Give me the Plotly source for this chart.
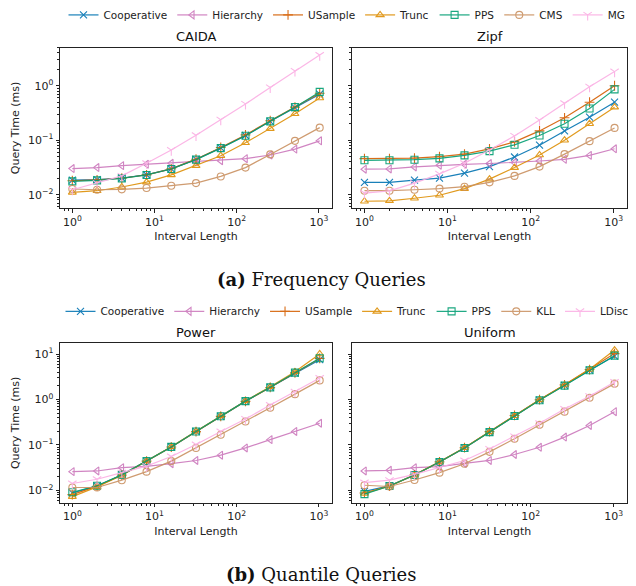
import plotly.graph_objects as go

# ---------------- data ----------------
interval_length = [1, 2, 4, 8, 16, 32, 64, 128, 256, 512, 1024]

freq_methods = ["Cooperative", "Hierarchy", "USample", "Trunc", "PPS", "CMS", "MG"]
quant_methods = ["Cooperative", "Hierarchy", "USample", "Trunc", "PPS", "KLL", "LDisc"]

# Frequency queries, CAIDA (ms)
caida_cooperative = [0.0185, 0.0188, 0.0202, 0.0232, 0.0298, 0.0445, 0.0720, 0.122, 0.222, 0.398, 0.70]
caida_hierarchy = [0.0301, 0.0314, 0.0341, 0.0361, 0.0377, 0.0404, 0.0421, 0.0458, 0.0534, 0.0686, 0.0973]
caida_usample = [0.0180, 0.0186, 0.0200, 0.0231, 0.0298, 0.0448, 0.0735, 0.125, 0.228, 0.405, 0.73]
caida_trunc = [0.0110, 0.0118, 0.0138, 0.0170, 0.0231, 0.0341, 0.0519, 0.0895, 0.163, 0.305, 0.597]
caida_pps = [0.0175, 0.0183, 0.0199, 0.0230, 0.0296, 0.0440, 0.0715, 0.121, 0.222, 0.404, 0.77]
caida_cms = [0.0127, 0.0123, 0.0125, 0.0132, 0.0146, 0.0163, 0.0216, 0.0314, 0.0548, 0.0973, 0.170]
caida_mg = [0.0123, 0.0163, 0.0221, 0.0377, 0.0658, 0.123, 0.238, 0.464, 0.93, 1.87, 3.66]

# Frequency queries, Zipf (ms)
zipf_cooperative = [0.0168, 0.0168, 0.0185, 0.0201, 0.0248, 0.0327, 0.0491, 0.081, 0.148, 0.265, 0.498]
zipf_hierarchy = [0.0293, 0.0297, 0.0323, 0.0346, 0.0361, 0.0373, 0.0388, 0.0415, 0.0445, 0.0526, 0.0695]
zipf_usample = [0.0458, 0.0458, 0.0470, 0.0498, 0.0555, 0.0695, 0.0933, 0.148, 0.258, 0.498, 1.0]
zipf_trunc = [0.00756, 0.0077, 0.00858, 0.00973, 0.0129, 0.0193, 0.0314, 0.0534, 0.100, 0.201, 0.404]
zipf_pps = [0.0427, 0.0427, 0.0438, 0.0464, 0.0526, 0.063, 0.0822, 0.122, 0.201, 0.382, 0.857]
zipf_cms = [0.0118, 0.0118, 0.0123, 0.0129, 0.0140, 0.0168, 0.0221, 0.0327, 0.0555, 0.096, 0.168]
zipf_mg = [0.0107, 0.0117, 0.0163, 0.0241, 0.0377, 0.0658, 0.120, 0.234, 0.477, 0.96, 1.82]

# Quantile queries, Power (ms)
power_cooperative = [0.0088, 0.0126, 0.0219, 0.0442, 0.0906, 0.198, 0.427, 0.92, 1.85, 3.80, 7.5]
power_hierarchy = [0.0259, 0.0268, 0.0316, 0.0338, 0.0387, 0.0456, 0.0596, 0.086, 0.131, 0.198, 0.30]
power_usample = [0.0081, 0.0124, 0.0217, 0.0440, 0.0900, 0.196, 0.425, 0.91, 1.84, 3.85, 8.0]
power_trunc = [0.0073, 0.0120, 0.0215, 0.0445, 0.0915, 0.200, 0.435, 0.93, 1.90, 4.05, 10.0]
power_pps = [0.0091, 0.0127, 0.0220, 0.0442, 0.0906, 0.198, 0.427, 0.92, 1.85, 3.90, 8.05]
power_kll = [0.0116, 0.0116, 0.0168, 0.0259, 0.0442, 0.086, 0.168, 0.327, 0.659, 1.31, 2.63]
power_ldisc = [0.0142, 0.0176, 0.0246, 0.0343, 0.0557, 0.102, 0.198, 0.373, 0.753, 1.47, 2.96]

# Quantile queries, Uniform (ms)
uniform_cooperative = [0.0095, 0.0126, 0.0219, 0.0420, 0.0860, 0.192, 0.435, 0.97, 2.05, 4.40, 9.0]
uniform_hierarchy = [0.0268, 0.0277, 0.0316, 0.0333, 0.0393, 0.0456, 0.0617, 0.0889, 0.149, 0.268, 0.54]
uniform_usample = [0.0088, 0.0125, 0.0220, 0.0425, 0.0870, 0.196, 0.445, 0.99, 2.10, 4.55, 10.2]
uniform_trunc = [0.0086, 0.0124, 0.0218, 0.0422, 0.0865, 0.194, 0.440, 0.98, 2.08, 4.60, 12.2]
uniform_pps = [0.0083, 0.0125, 0.0219, 0.0420, 0.0860, 0.192, 0.432, 0.96, 2.02, 4.40, 9.2]
uniform_kll = [0.0130, 0.0122, 0.0170, 0.0246, 0.0387, 0.0705, 0.137, 0.277, 0.54, 1.09, 2.23]
uniform_ldisc = [0.0149, 0.0168, 0.0226, 0.0316, 0.0456, 0.0818, 0.154, 0.30, 0.616, 1.18, 2.42]

panel_titles = ["CAIDA", "Zipf", "Power", "Uniform"]
captions = ["<b>(a)</b> Frequency Queries", "<b>(b)</b> Quantile Queries"]

x_tickvals = [1, 10, 100, 1000]
x_ticktext = ["10<sup>0</sup>", "10<sup>1</sup>", "10<sup>2</sup>", "10<sup>3</sup>"]
y_tickvals_top = [0.01, 0.1, 1]
y_ticktext_top = ["10<sup>\u22122</sup>", "10<sup>\u22121</sup>", "10<sup>0</sup>"]
y_tickvals_bot = [0.01, 0.1, 1, 10]
y_ticktext_bot = ["10<sup>\u22122</sup>", "10<sup>\u22121</sup>", "10<sup>0</sup>", "10<sup>1</sup>"]

# ---------------- styles ----------------
colors = ["#0173b2", "#cc78bc", "#d55e00", "#de8f05", "#029e73", "#ca9161", "#fbafe4"]
symbols = ["x-thin-open", "triangle-left-open", "cross-thin-open", "triangle-up-open",
           "square-open", "circle-open", "y-down-open"]
sizes = [7, 7, 7, 7, 7, 7, 7]

panels = [
    ("x", "y", freq_methods, [caida_cooperative, caida_hierarchy, caida_usample, caida_trunc,
                              caida_pps, caida_cms, caida_mg], "legend"),
    ("x2", "y2", freq_methods, [zipf_cooperative, zipf_hierarchy, zipf_usample, zipf_trunc,
                                zipf_pps, zipf_cms, zipf_mg], None),
    ("x3", "y3", quant_methods, [power_cooperative, power_hierarchy, power_usample, power_trunc,
                                 power_pps, power_kll, power_ldisc], "legend2"),
    ("x4", "y4", quant_methods, [uniform_cooperative, uniform_hierarchy, uniform_usample,
                                 uniform_trunc, uniform_pps, uniform_kll, uniform_ldisc], None),
]

fig = go.Figure()
for xa, ya, names, series, leg in panels:
    for i, (name, vals) in enumerate(zip(names, series)):
        fig.add_trace(go.Scatter(
            x=interval_length, y=vals, name=name, mode="lines+markers",
            xaxis=xa, yaxis=ya,
            line=dict(color=colors[i], width=1.2),
            marker=dict(symbol=symbols[i], size=sizes[i], color=colors[i],
                        line=dict(color=colors[i], width=1.1)),
            opacity=0.9,
            showlegend=leg is not None,
            legend=leg if leg else "legend",
        ))

W, H = 636, 586
xdom_l = [60 / W, 332 / W]
xdom_r = [352 / W, 627 / W]
ydom_top = [1 - 205 / H, 1 - 43 / H]
ydom_bot = [1 - 502 / H, 1 - 341 / H]

minor_vals = [m * 10 ** e for e in range(-3, 2) for m in range(2, 10)]

def axis_common():
    return dict(
        type="log", showgrid=False, zeroline=False,
        showline=True, linecolor="#222", linewidth=1, mirror=True,
        ticks="outside", ticklen=3.5, tickwidth=0.8, tickcolor="#222",
        tickfont=dict(family="DejaVu Sans", size=11, color="#222"),
        minor=dict(ticks="outside", ticklen=2, tickwidth=0.6, tickcolor="#222",
                   tickvals=minor_vals, showgrid=False),
    )

def xaxis(dom, anchor):
    d = axis_common()
    d.update(domain=dom, anchor=anchor, range=[-0.15, 3.16],
             tickvals=x_tickvals, ticktext=x_ticktext,
             title=dict(text="Interval Length", standoff=4,
                        font=dict(family="DejaVu Sans", size=11, color="#222")))
    return d

def yaxis(dom, anchor, rng, tv, tt, labels):
    d = axis_common()
    d.update(domain=dom, anchor=anchor, range=rng, tickvals=tv, ticktext=tt,
             showticklabels=labels)
    if labels:
        d["title"] = dict(text="Query Time (ms)", standoff=6,
                          font=dict(family="DejaVu Sans", size=11, color="#222"))
    return d

rng_top = [-2.25, 0.70]
rng_bot = [-2.27, 1.24]

annotations = []
title_pos = [((xdom_l[0] + xdom_l[1]) / 2, 1 - 32 / H), ((xdom_r[0] + xdom_r[1]) / 2, 1 - 32 / H),
             ((xdom_l[0] + xdom_l[1]) / 2, 1 - 330 / H), ((xdom_r[0] + xdom_r[1]) / 2, 1 - 330 / H)]
for t, (px, py) in zip(panel_titles, title_pos):
    annotations.append(dict(text=t, x=px, y=py, xref="paper", yref="paper", showarrow=False,
                            xanchor="center", yanchor="middle",
                            font=dict(family="DejaVu Sans", size=13, color="#111")))
for t, py in zip(captions, [1 - 277 / H, 1 - 574 / H]):
    annotations.append(dict(text=t, x=321 / W, y=py, xref="paper", yref="paper", showarrow=False,
                            xanchor="center", yanchor="middle",
                            font=dict(family="DejaVu Serif", size=18, color="#111")))

legend_common = dict(orientation="h", xanchor="center", yanchor="middle",
                     font=dict(family="DejaVu Sans", size=10.5, color="#222"),
                     bgcolor="rgba(0,0,0,0)", borderwidth=0, itemwidth=30)

fig.update_layout(
    width=W, height=H, margin=dict(l=0, r=0, t=0, b=0),
    paper_bgcolor="white", plot_bgcolor="white",
    xaxis=xaxis(xdom_l, "y"),
    yaxis=yaxis(ydom_top, "x", rng_top, y_tickvals_top, y_ticktext_top, True),
    xaxis2=xaxis(xdom_r, "y2"),
    yaxis2=yaxis(ydom_top, "x2", rng_top, y_tickvals_top, y_ticktext_top, False),
    xaxis3=xaxis(xdom_l, "y3"),
    yaxis3=yaxis(ydom_bot, "x3", rng_bot, y_tickvals_bot, y_ticktext_bot, True),
    xaxis4=xaxis(xdom_r, "y4"),
    yaxis4=yaxis(ydom_bot, "x4", rng_bot, y_tickvals_bot, y_ticktext_bot, False),
    legend=dict(x=347 / W, y=1 - 10 / H, **legend_common),
    legend2=dict(x=347 / W, y=1 - 309 / H, **legend_common),
    annotations=annotations,
)

fig.write_html("out.html", config={"displayModeBar": False},
               post_script="document.body.style.margin='0px';")
